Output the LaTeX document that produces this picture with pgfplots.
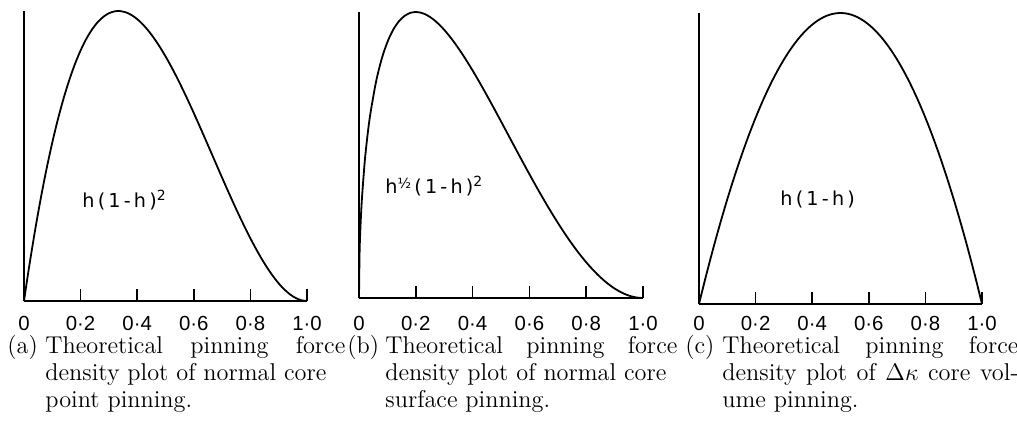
\documentclass[border=0pt]{standalone}
\usepackage{fontspec}
\usepackage{pgfplots}
\pgfplotsset{compat=1.18}
\newfontfamily\letterfont{DejaVu Sans}
\newfontfamily\tickfont{Liberation Sans}
\newcommand\capfont{\fontsize{12.15}{13.5}\selectfont}
\newcommand\labfont{\letterfont\fontsize{9.6}{11}\selectfont}
\pgfplotsset{pinstyle/.style={
  scale only axis, clip=false,
  axis x line=bottom, axis y line=left,
  axis line style={line width=0.8pt,-},
  xmin=0,xmax=1,ymin=0,ymax=1,
  xtick={0,0.2,0.4,0.6,0.8,1},
  xticklabels={0,0·2,0·4,0·6,0·8,1·0},
  ytick=\empty,
  tick align=inside, major tick length=6pt,
  tick style={line width=0.8pt,black},
  xticklabel style={font=\tickfont\fontsize{10.2}{11}\selectfont},
}}
\pgfplotsset{curve/.style={black, line width=0.9pt, no markers, smooth}}
\begin{document}
\begin{tikzpicture}
\useasboundingbox (0,0) rectangle (508.5pt,212.5pt);
% (a) h(1-h)^2
\begin{axis}[pinstyle, at={(12pt,62pt)}, anchor=south west, width=141.5pt, height=145pt,
  xticklabel style={yshift=-4pt}]
\addplot[curve] coordinates {
(0,0) (0.01,0.06616) (0.02,0.12965) (0.04,0.24883) (0.06,0.35786) (0.08,0.45706)
(0.10,0.54675) (0.12,0.62726) (0.14,0.69892) (0.16,0.76205) (0.18,0.81697)
(0.20,0.864) (0.22,0.90347) (0.24,0.93571) (0.26,0.96104) (0.28,0.97978)
(0.30,0.99225) (0.32,0.99878) (0.3333,1.0) (0.34,0.99970) (0.36,0.99533)
(0.38,0.98599) (0.40,0.972) (0.42,0.95369) (0.44,0.93139) (0.46,0.90542)
(0.48,0.87610) (0.50,0.84375) (0.52,0.80870) (0.54,0.77128) (0.56,0.73181)
(0.58,0.69061) (0.60,0.648) (0.62,0.60431) (0.64,0.55987) (0.66,0.51500)
(0.68,0.47002) (0.70,0.42525) (0.72,0.38102) (0.74,0.33766) (0.76,0.29549)
(0.78,0.25483) (0.80,0.216) (0.82,0.17933) (0.84,0.14515) (0.86,0.11378)
(0.88,0.08554) (0.90,0.06075) (0.92,0.03974) (0.94,0.02284) (0.96,0.01037)
(0.98,0.00265) (1.0,0)
};
\end{axis}
% (b) h^{1/2}(1-h)^2
\begin{axis}[pinstyle, at={(179.5pt,63.5pt)}, anchor=south west, width=142pt, height=143pt,
  xticklabel style={yshift=-5.5pt}]
\addplot[curve] coordinates {
(0,0) (0.002,0.15563) (0.005,0.24459) (0.01,0.34243) (0.02,0.47454) (0.03,0.56939)
(0.04,0.64399) (0.06,0.75620) (0.08,0.83642) (0.10,0.89493) (0.12,0.93726)
(0.14,0.96687) (0.16,0.98611) (0.18,0.99671) (0.20,1.0) (0.22,0.99703)
(0.24,0.98864) (0.26,0.97557) (0.28,0.95840) (0.30,0.93769) (0.32,0.91389)
(0.34,0.88742) (0.36,0.85865) (0.38,0.82790) (0.40,0.79549) (0.42,0.76170)
(0.44,0.72679) (0.46,0.69099) (0.48,0.65454) (0.50,0.61763) (0.52,0.58048)
(0.54,0.54327) (0.56,0.50618) (0.58,0.46937) (0.60,0.43301) (0.62,0.39725)
(0.64,0.36224) (0.66,0.32812) (0.68,0.29502) (0.70,0.26308) (0.72,0.23243)
(0.74,0.20317) (0.76,0.17544) (0.78,0.14935) (0.80,0.12500) (0.82,0.10251)
(0.84,0.08198) (0.86,0.06350) (0.88,0.04720) (0.90,0.03315) (0.92,0.02145)
(0.94,0.01219) (0.96,0.00548) (0.98,0.00138) (1.0,0)
};
\end{axis}
% (c) h(1-h)
\begin{axis}[pinstyle, at={(349.5pt,60.5pt)}, anchor=south west, width=141.5pt, height=145.5pt,
  xticklabel style={yshift=-2.5pt}]
\addplot[curve] coordinates {
(0,0) (0.02,0.0784) (0.04,0.1536) (0.06,0.2256) (0.08,0.2944) (0.10,0.36)
(0.12,0.4224) (0.14,0.4816) (0.16,0.5376) (0.18,0.5904) (0.20,0.64)
(0.22,0.6864) (0.24,0.7296) (0.26,0.7696) (0.28,0.8064) (0.30,0.84)
(0.32,0.8704) (0.34,0.8976) (0.36,0.9216) (0.38,0.9424) (0.40,0.96)
(0.42,0.9744) (0.44,0.9856) (0.46,0.9936) (0.48,0.9984) (0.50,1.0)
(0.52,0.9984) (0.54,0.9936) (0.56,0.9856) (0.58,0.9744) (0.60,0.96)
(0.62,0.9424) (0.64,0.9216) (0.66,0.8976) (0.68,0.8704) (0.70,0.84)
(0.72,0.8064) (0.74,0.7696) (0.76,0.7296) (0.78,0.6864) (0.80,0.64)
(0.82,0.5904) (0.84,0.5376) (0.86,0.4816) (0.88,0.4224) (0.90,0.36)
(0.92,0.2944) (0.94,0.2256) (0.96,0.1536) (0.98,0.0784) (1.0,0)
};
\end{axis}
% curve labels
\node[anchor=base west, inner sep=0, font=\labfont] at (41pt,109pt)
  {h\,(\,1\,-\,h\,)\raisebox{3.5pt}{\fontsize{7}{8}\selectfont 2}};
\node[anchor=base west, inner sep=0, font=\labfont] at (192.5pt,116pt)
  {h\raisebox{2.5pt}{\fontsize{7}{8}\selectfont ½}\,(\,1\,-\,h\,)\raisebox{3.5pt}{\fontsize{7}{8}\selectfont 2}};
\node[anchor=base west, inner sep=0, font=\labfont] at (390pt,110pt)
  {h\,(\,1\,-\,h\,)};
% captions
\begin{scope}[every node/.style={anchor=base west, inner sep=0, font=\capfont}]
\node at (3.5pt,36pt) {(a)};
\node at (22.5pt,36pt) {\makebox[150pt][s]{Theoretical pinning force}};
\node at (22.5pt,22.5pt) {density plot of normal core};
\node at (22.5pt,9pt) {point pinning.};
\node at (173.5pt,36pt) {(b)};
\node at (192.5pt,36pt) {\makebox[146pt][s]{Theoretical pinning force}};
\node at (192.5pt,22.5pt) {density plot of normal core};
\node at (192.5pt,9pt) {surface pinning.};
\node at (342.5pt,36pt) {(c)};
\node at (361pt,36pt) {\makebox[148pt][s]{Theoretical pinning force}};
\node at (361pt,22.5pt) {\makebox[148pt][s]{density plot of $\Delta\kappa$ core vol-}};
\node at (361pt,9pt) {ume pinning.};
\end{scope}
\end{tikzpicture}
\end{document}
